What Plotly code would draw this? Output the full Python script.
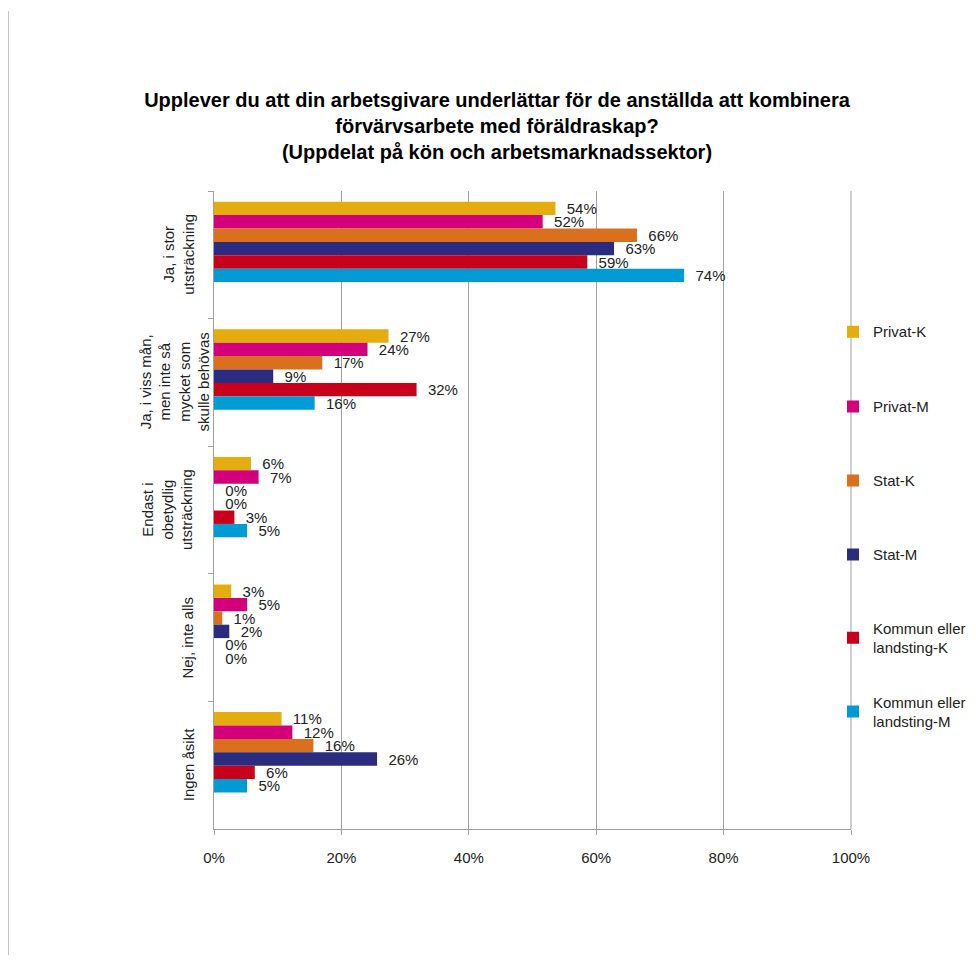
import plotly.graph_objects as go

# ---- data ----
categories = [
    "Ja, i stor<br>utsträckning",
    "Ja, i viss mån,<br>men inte så<br>mycket som<br>skulle behövas",
    "Endast i<br>obetydlig<br>utsträckning",
    "Nej, inte alls",
    "Ingen åsikt",
]
series_names = [
    "Privat-K",
    "Privat-M",
    "Stat-K",
    "Stat-M",
    "Kommun eller<br>landsting-K",
    "Kommun eller<br>landsting-M",
]
privat_k = [53.6, 27.4, 5.8, 2.7, 10.6]
privat_m = [51.6, 24.1, 7.0, 5.2, 12.3]
stat_k = [66.4, 17.0, 0.0, 1.3, 15.6]
stat_m = [62.8, 9.3, 0.0, 2.4, 25.6]
kommun_k = [58.6, 31.8, 3.2, 0.0, 6.4]
kommun_m = [73.8, 15.8, 5.2, 0.0, 5.2]
series_values = [privat_k, privat_m, stat_k, stat_m, kommun_k, kommun_m]

x_tick_values = [0, 20, 40, 60, 80, 100]
x_tick_labels = ["0%", "20%", "40%", "60%", "80%", "100%"]

title_text = ("Upplever du att din arbetsgivare underlättar för de anställda att kombinera<br>"
              "förvärvsarbete med föräldraskap?<br>"
              "(Uppdelat på kön och arbetsmarknadssektor)")

# ---- style ----
colors = ["#E5AC0D", "#D4007B", "#DA6F1E", "#2B2B80", "#C8001C", "#009BD5"]
FONT = "Liberation Sans, Arial, sans-serif"
W, H = 960, 947                      # page body has an 8px margin
L, T, R, B = 206, 183, 117, 125.5    # plot area: page x 214..851, y 191..829.5
PW, PH = W - L - R, H - T - B
bar_w = 0.105
first_off = -0.416
label_centers_x = [179, 175, 167, 188, 188]   # page x of rotated category labels
legend_centers = [332, 407, 481, 555, 638, 712]


def py(page_y):
    return (H - B - (page_y - 8)) / PH


def px(page_x):
    return (page_x - 8 - L) / PW


fig = go.Figure()
for i, (name, vals) in enumerate(zip(series_names, series_values)):
    lg = "legend" if i == 0 else f"legend{i+1}"
    fig.add_trace(go.Bar(
        y=categories,
        x=vals,
        name=name,
        orientation="h",
        marker=dict(color=colors[i], line=dict(width=0)),
        width=bar_w,
        offset=first_off + i * bar_w,
        texttemplate="\u00a0\u00a0%{x:.0f}%",
        textposition="outside",
        constraintext="none",
        cliponaxis=False,
        textfont=dict(family=FONT, size=15, color="#222222"),
        legend=lg,
        hoverinfo="x+y+name",
    ))

layout_legends = {}
for i, yc in enumerate(legend_centers):
    key = "legend" if i == 0 else f"legend{i+1}"
    layout_legends[key] = dict(
        x=px(833), xanchor="left", y=py(yc), yanchor="middle",
        bgcolor="rgba(0,0,0,0)", borderwidth=0,
        font=dict(family=FONT, size=15, color="#222222"),
        itemwidth=30,
    )

annotations = []
for cat, cx in zip(categories, label_centers_x):
    annotations.append(dict(
        text=cat, x=px(cx), xref="paper", y=cat, yref="y",
        xanchor="center", yanchor="middle", textangle=-90,
        showarrow=False, align="center",
        font=dict(family=FONT, size=15, color="#222222"),
    ))

fig.update_layout(
    width=W, height=H,
    margin=dict(l=L, r=R, t=T, b=B, pad=0, autoexpand=False),
    paper_bgcolor="white", plot_bgcolor="white",
    barmode="group",
    showlegend=True,
    title=dict(
        text=title_text,
        x=(497 - 8) / W, xanchor="center", xref="container",
        y=1 - (107 - 8) / H, yanchor="middle", yref="container",
        font=dict(family=FONT, size=20, color="#000000", weight="bold"),
    ),
    xaxis=dict(
        range=[0, 100], tickvals=x_tick_values, ticktext=x_tick_labels,
        showgrid=True, gridcolor="#A0A0A0", gridwidth=1,
        showline=True, linecolor="#A0A0A0", linewidth=1,
        ticks="outside", ticklen=5, tickcolor="#A0A0A0",
        tickfont=dict(family=FONT, size=15, color="#222222"),
        ticklabelstandoff=10,
        zeroline=False, fixedrange=True, automargin=False,
    ),
    yaxis=dict(
        categoryorder="array", categoryarray=categories,
        autorange="reversed",
        showline=True, linecolor="#A0A0A0", linewidth=1,
        ticks="outside", ticklen=5, tickcolor="#A0A0A0",
        tickson="boundaries",
        showticklabels=False,
        showgrid=False, zeroline=False, fixedrange=True, automargin=False,
    ),
    annotations=annotations,
    shapes=[
        dict(type="line", xref="paper", yref="paper",
             x0=px(8.5), x1=px(8.5),
             y0=py(11), y1=py(963),
             line=dict(color="#C8C8C8", width=1)),
        dict(type="line", xref="paper", yref="paper",
             x0=1, x1=1, y0=0, y1=1,
             line=dict(color="#A0A0A0", width=1)),
    ],
    **layout_legends,
)

fig.write_html("out.html")
